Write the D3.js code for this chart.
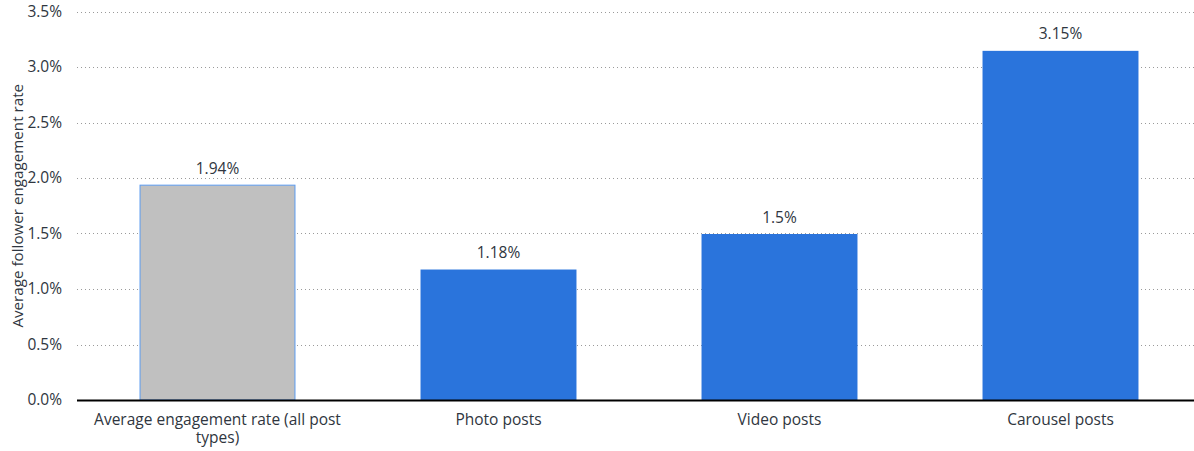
<!DOCTYPE html>
<html>
<head>
<meta charset="utf-8">
<script src="https://cdn.jsdelivr.net/npm/d3@7"></script>
<style>
  html, body { margin: 0; padding: 0; background: #fff; }
  svg { display: block; font-family: "Open Sans", "Noto Sans", sans-serif; }
</style>
</head>
<body>
<svg id="chart" width="1194" height="451"></svg>
<script>
// Engagement rate by post type
const categories = [
  ["Average engagement rate (all post", "types)"],
  ["Photo posts"],
  ["Video posts"],
  ["Carousel posts"]
];
const values = [1.94, 1.18, 1.5, 3.15];
const valueLabels = ["1.94%", "1.18%", "1.5%", "3.15%"];
const yTicks = [0, 0.5, 1, 1.5, 2, 2.5, 3, 3.5];
const yTickLabels = ["0.0%", "0.5%", "1.0%", "1.5%", "2.0%", "2.5%", "3.0%", "3.5%"];
const yTitle = "Average follower engagement rate";

const svg = d3.select("#chart");
const plotLeft = 77, plotRight = 1201, plotTop = 11.5, plotBottom = 400;
const fontSize = 15.5;
const textColor = "#2f3640";

const x = d3.scaleBand()
  .domain(d3.range(categories.length))
  .range([plotLeft, plotRight])
  .paddingInner(0.445)
  .paddingOuter(0.2225);

const y = d3.scaleLinear().domain([0, 3.5]).range([plotBottom, plotTop]);

// Grid lines
svg.append("g")
  .selectAll("line")
  .data(yTicks.filter(d => d > 0))
  .join("line")
  .attr("x1", plotLeft).attr("x2", 1194)
  .attr("y1", d => Math.round(y(d)) + 0.5).attr("y2", d => Math.round(y(d)) + 0.5)
  .attr("stroke", "#9a9a9a")
  .attr("stroke-width", 1)
  .attr("stroke-dasharray", "1,3");

// Y tick labels
svg.append("g")
  .selectAll("text")
  .data(yTicks)
  .join("text")
  .attr("x", 62)
  .attr("y", d => y(d))
  .attr("dy", "0.35em")
  .attr("text-anchor", "end")
  .attr("font-size", fontSize)
  .attr("fill", textColor)
  .text((d, i) => yTickLabels[i]);

// Y axis title, centred on the plot area
svg.append("text")
  .attr("transform", `translate(23, ${(plotTop + plotBottom) / 2}) rotate(-90)`)
  .attr("text-anchor", "middle")
  .attr("font-size", 15.2)
  .attr("fill", textColor)
  .text(yTitle);

// Bars
svg.append("g")
  .selectAll("rect")
  .data(values)
  .join("rect")
  .attr("x", (d, i) => x(i) + (i === 0 ? 0.5 : 0))
  .attr("y", d => y(d) + 0.5)
  .attr("width", (d, i) => x.bandwidth() - (i === 0 ? 1 : 0))
  .attr("height", d => plotBottom - y(d) - 0.5)
  .attr("fill", (d, i) => i === 0 ? "#c0c0c0" : "#2a74dc")
  .attr("stroke", (d, i) => i === 0 ? "#5b9bf0" : "none")
  .attr("stroke-width", 1);

// Value labels
svg.append("g")
  .selectAll("text")
  .data(values)
  .join("text")
  .attr("x", (d, i) => x(i) + x.bandwidth() / 2)
  .attr("y", d => y(d) - 11)
  .attr("text-anchor", "middle")
  .attr("font-size", fontSize)
  .attr("fill", textColor)
  .text((d, i) => valueLabels[i]);

// Baseline
svg.append("line")
  .attr("x1", plotLeft).attr("x2", 1194)
  .attr("y1", plotBottom + 0.5).attr("y2", plotBottom + 0.5)
  .attr("stroke", "#000")
  .attr("stroke-width", 2);

// Category labels
const cat = svg.append("g")
  .selectAll("text")
  .data(categories)
  .join("text")
  .attr("x", (d, i) => x(i) + x.bandwidth() / 2)
  .attr("y", 425)
  .attr("text-anchor", "middle")
  .attr("font-size", fontSize)
  .attr("fill", textColor);
cat.selectAll("tspan")
  .data(d => d)
  .join("tspan")
  .attr("x", function() { return d3.select(this.parentNode).attr("x"); })
  .attr("dy", (d, j) => j === 0 ? 0 : 18)
  .text(d => d);
</script>
</body>
</html>
